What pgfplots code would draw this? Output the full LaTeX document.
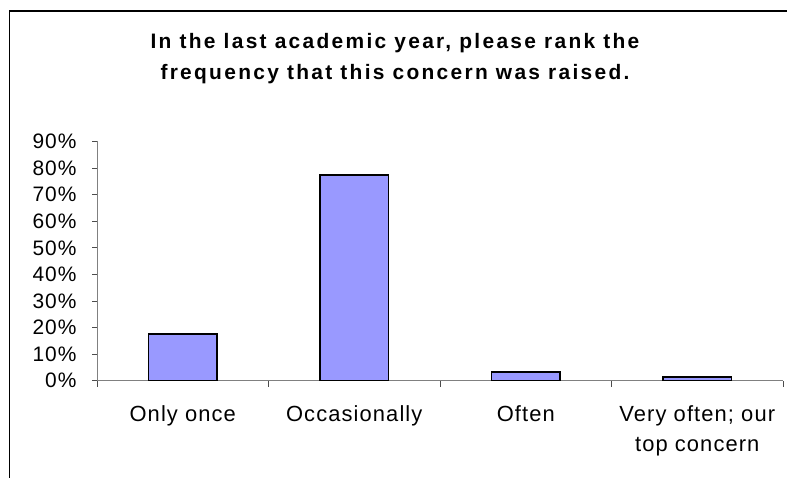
\documentclass[border=0pt]{standalone}
\usepackage{pgfplots}
\pgfplotsset{compat=1.18}
\usepackage{fontspec}
\setmainfont{Liberation Sans}
\newfontfamily\titlefont[LetterSpace=11]{Liberation Sans}
\newfontfamily\tickfont[LetterSpace=5]{Liberation Sans}
\definecolor{barfill}{HTML}{9999FF}
\definecolor{axgray}{HTML}{808080}
\begin{document}
\begin{tikzpicture}[x=1bp,y=1bp]
\useasboundingbox (0,0) rectangle (787,478);
\fill[white] (0,0) rectangle (787,478);
\draw[line width=1.5bp] (9.5,0) -- (9.5,467) -- (787,467);
\node[font=\titlefont\fontsize{21}{31}\selectfont\bfseries, align=center] at (395,419.5)
  {In the last academic year, please rank the\\frequency that this concern was raised.};
\begin{axis}[
  at={(97bp,97.3bp)}, anchor=south west,
  scale only axis, width=686bp, height=239.2bp,
  xmin=-0.5, xmax=3.5, ymin=0, ymax=90,
  axis lines*=left,
  axis line style={draw=axgray, line width=1bp},
  xtick={0,1,2,3},
  xticklabels={Only once, Occasionally, Often, {Very often; our\\top concern}},
  minor xtick={-0.5,0.5,1.5,2.5,3.5},
  major x tick style={draw=none},
  minor tick length=6bp,
  major tick length=5bp,
  tick align=outside,
  tick style={draw=black!70, line width=0.8bp},
  ytick={0,10,...,90},
  yticklabels={0\%,10\%,20\%,30\%,40\%,50\%,60\%,70\%,80\%,90\%},
  yticklabel style={font=\tickfont\fontsize{21}{30}\selectfont, xshift=-12bp},
  xticklabel style={font=\tickfont\fontsize{22}{31}\selectfont, align=center, yshift=-16bp},
  clip=false,
]
\addplot[ybar, bar width=0.4, fill=barfill, draw=black, line width=1.5bp]
  coordinates {(0,17.6) (1,77.4) (2,3.3) (3,1.3)};
\end{axis}
\end{tikzpicture}
\end{document}
